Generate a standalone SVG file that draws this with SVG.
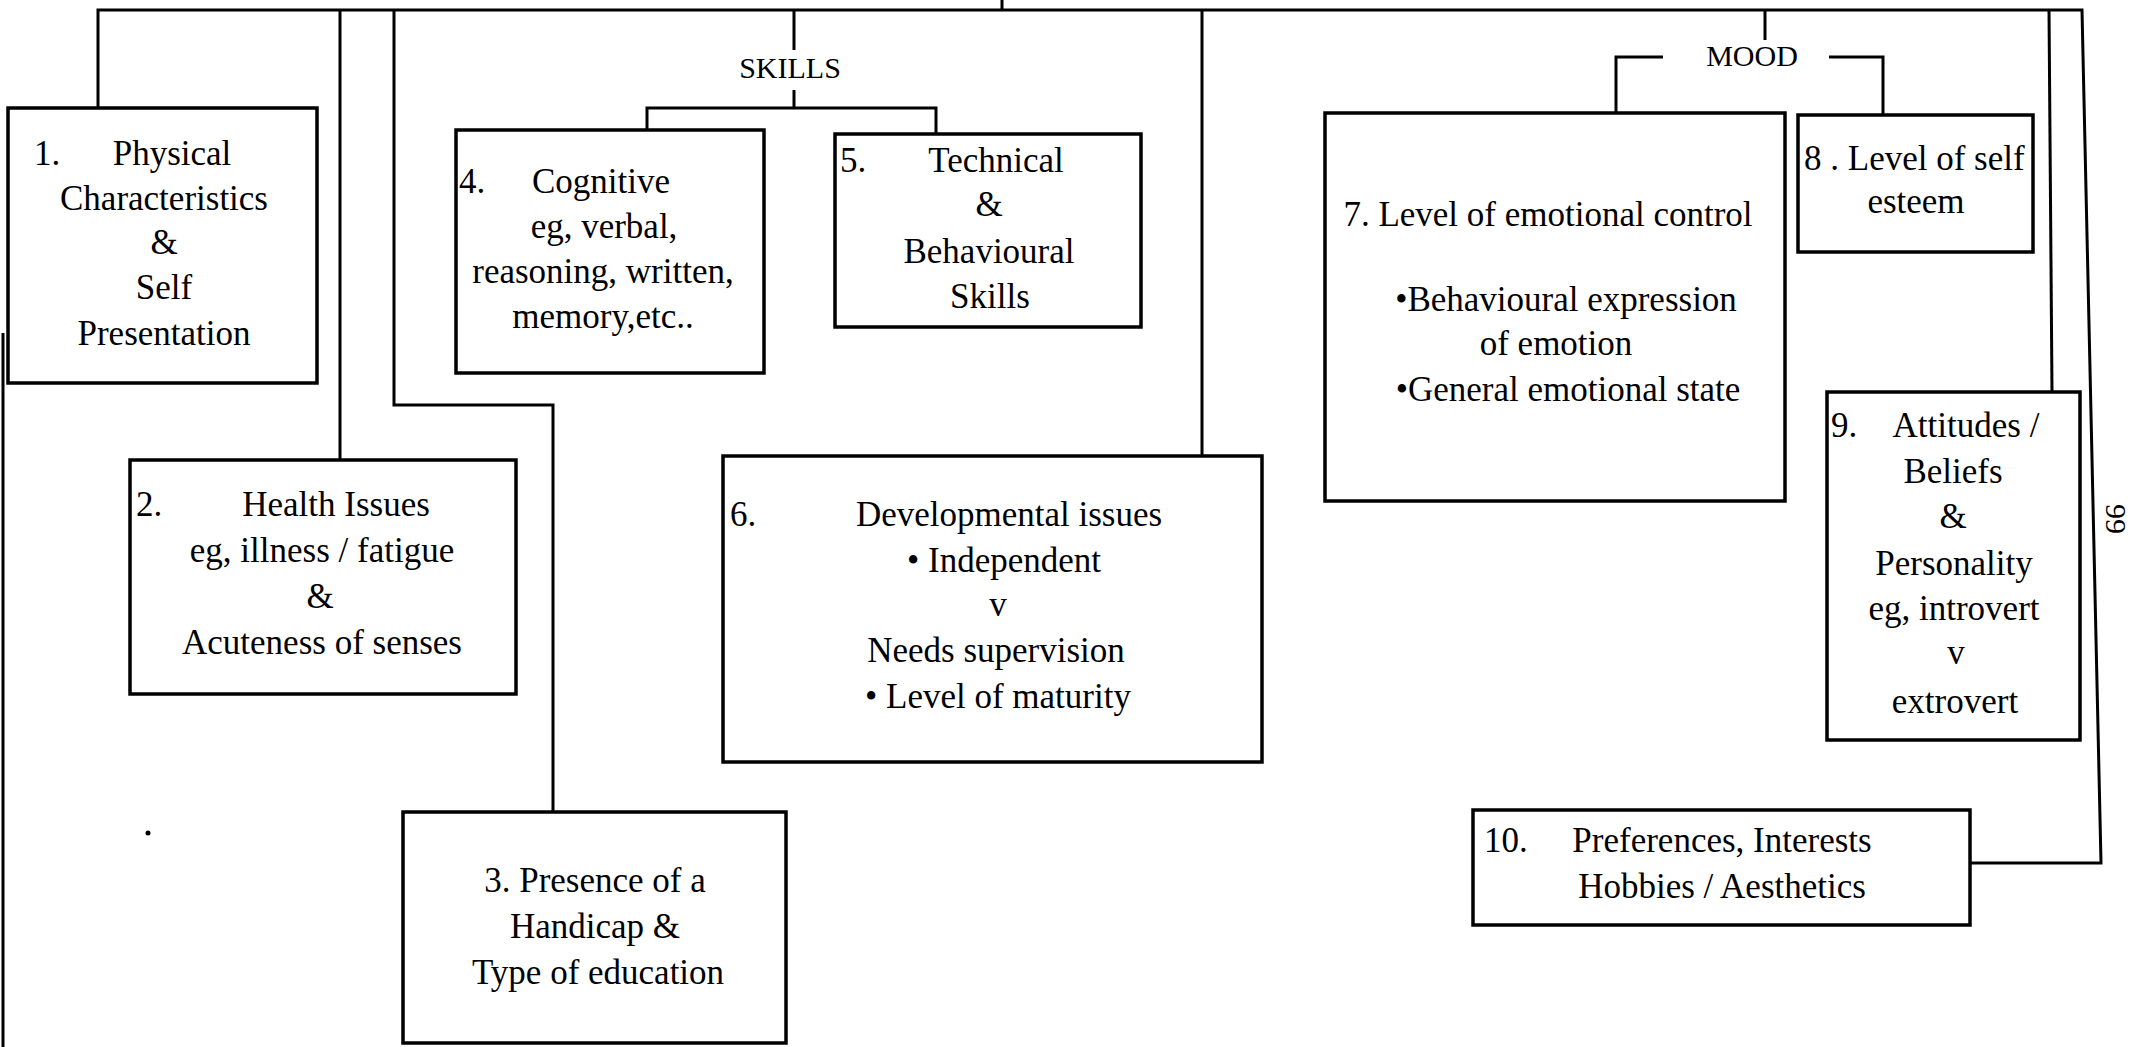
<svg xmlns="http://www.w3.org/2000/svg" width="2135" height="1047" viewBox="0 0 2135 1047">
<style>
.bg{fill:#fff}
.box{fill:#fff;stroke:#000;stroke-width:3.5}
.ln{fill:none;stroke:#000;stroke-width:3}
text{font-family:"Liberation Serif","Times New Roman",serif;font-size:35px;fill:#000;text-anchor:middle}
.s{text-anchor:start}
.lbl{font-size:30px}
</style>
<rect class="bg" x="0" y="0" width="2135" height="1047"/>
<g id="connectors">
<path class="ln" d="M1970 863 L2101 863 L2082 10 L98 10 L98 108"/>
<path class="ln" d="M1002 0 V10"/>
<path class="ln" d="M340 10 V460"/>
<path class="ln" d="M394 10 V405 H553 V812"/>
<path class="ln" d="M794 10 V50 M794 90 V108 M647 130 V108 H936 V134"/>
<path class="ln" d="M1202 10 V456"/>
<path class="ln" d="M1765 10 V40 M1663 57 H1616 V113 M1829 57 H1883 V115"/>
<path class="ln" d="M2049 10 L2052 392"/>
<path class="ln" d="M3 333 V1047"/>
<circle cx="148" cy="833" r="2.5" fill="#000"/>
</g>
<g id="label-skills"><text x="790" y="78" class="lbl">SKILLS</text></g>
<g id="label-mood"><text x="1752" y="66" class="lbl">MOOD</text></g>
<g id="node1">
<rect class="box" x="8" y="108" width="309" height="275"/>
<text x="34" y="165" class="s">1.</text>
<text x="172" y="165">Physical</text>
<text x="164" y="210">Characteristics</text>
<text x="164" y="254">&amp;</text>
<text x="164" y="299">Self</text>
<text x="164" y="345">Presentation</text>
</g>
<g id="node2">
<rect class="box" x="130" y="460" width="386" height="234"/>
<text x="136" y="516" class="s">2.</text>
<text x="336" y="516">Health Issues</text>
<text x="322" y="562">eg, illness / fatigue</text>
<text x="320" y="608">&amp;</text>
<text x="322" y="654">Acuteness of senses</text>
</g>
<g id="node3">
<rect class="box" x="403" y="812" width="383" height="231"/>
<text x="595" y="892">3.  Presence of a</text>
<text x="595" y="938">Handicap &amp;</text>
<text x="598" y="984">Type of education</text>
</g>
<g id="node4">
<rect class="box" x="456" y="130" width="308" height="243"/>
<text x="459" y="193" class="s">4.</text>
<text x="601" y="193">Cognitive</text>
<text x="604" y="238">eg, verbal,</text>
<text x="603" y="283">reasoning, written,</text>
<text x="603" y="328">memory,etc..</text>
</g>
<g id="node5">
<rect class="box" x="835" y="134" width="306" height="193"/>
<text x="840" y="172" class="s">5.</text>
<text x="996" y="172">Technical</text>
<text x="989" y="216">&amp;</text>
<text x="989" y="263">Behavioural</text>
<text x="990" y="308">Skills</text>
</g>
<g id="node6">
<rect class="box" x="723" y="456" width="539" height="306"/>
<text x="730" y="526" class="s">6.</text>
<text x="1009" y="526">Developmental issues</text>
<text x="1004" y="572">•  Independent</text>
<text x="998" y="616">v</text>
<text x="996" y="662">Needs supervision</text>
<text x="998" y="708">•  Level of maturity</text>
</g>
<g id="node7">
<rect class="box" x="1325" y="113" width="460" height="388"/>
<text x="1548" y="226">7. Level of emotional control</text>
<text x="1566" y="311">•Behavioural expression</text>
<text x="1556" y="355">of emotion</text>
<text x="1568" y="401">•General emotional state</text>
</g>
<g id="node8">
<rect class="box" x="1798" y="115" width="235" height="137"/>
<text x="1804" y="170" class="s">8 . Level of self</text>
<text x="1916" y="213">esteem</text>
</g>
<g id="node9">
<rect class="box" x="1827" y="392" width="253" height="348"/>
<text x="1831" y="437" class="s">9.</text>
<text x="1966" y="437">Attitudes /</text>
<text x="1953" y="483">Beliefs</text>
<text x="1953" y="528">&amp;</text>
<text x="1954" y="575">Personality</text>
<text x="1954" y="620">eg, introvert</text>
<text x="1956" y="664">v</text>
<text x="1955" y="713">extrovert</text>
</g>
<g id="node10">
<rect class="box" x="1473" y="810" width="497" height="115"/>
<text x="1484" y="852" class="s">10.</text>
<text x="1722" y="852">Preferences, Interests</text>
<text x="1722" y="898">Hobbies / Aesthetics</text>
</g>
<g id="page-number">
<text x="2116" y="519" transform="rotate(90 2116 519)" dy="10" class="lbl">99</text>
</g>
</svg>
